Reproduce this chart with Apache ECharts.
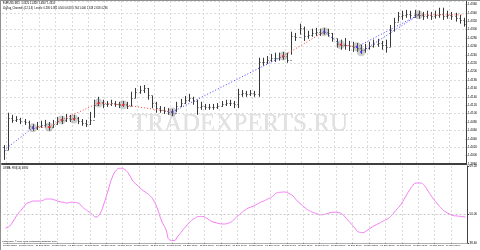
<!DOCTYPE html>
<html><head><meta charset="utf-8">
<script src="https://cdn.jsdelivr.net/npm/echarts@6/dist/echarts.min.js"></script>
<style>html,body{margin:0;padding:0;background:#fff}#c{width:480px;height:250px}</style>
</head><body><div id="c"></div>
<script>
// ---- data ----
const firstOpen = 1.4020;
const closes = [1.4013,1.4090,1.4085,1.4087,1.4083,1.4080,1.4071,1.4066,1.4071,1.4073,
1.4075,1.4068,1.4075,1.4083,1.4085,1.4090,1.4087,1.4090,1.4083,1.4078,
1.4075,1.4085,1.4121,1.4128,1.4123,1.4123,1.4125,1.4123,1.4121,1.4123,
1.4118,1.4137,1.4152,1.4156,1.4161,1.4145,1.4125,1.4113,1.4109,1.4106,
1.4104,1.4102,1.4118,1.4125,1.4133,1.4137,1.4130,1.4116,1.4118,1.4116,
1.4116,1.4116,1.4118,1.4123,1.4125,1.4125,1.4123,1.4147,1.4149,1.4147,
1.4149,1.4147,1.4223,1.4223,1.4228,1.4233,1.4233,1.4235,1.4237,1.4228,
1.4285,1.4283,1.4304,1.4285,1.4288,1.4292,1.4295,1.4292,1.4295,1.4292,
1.4280,1.4266,1.4264,1.4264,1.4261,1.4259,1.4257,1.4252,1.4257,1.4261,
1.4266,1.4268,1.4264,1.4259,1.4299,1.4319,1.4333,1.4335,1.4338,1.4335,
1.4338,1.4335,1.4333,1.4335,1.4333,1.4335,1.4338,1.4333,1.4335,1.4333,
1.4328,1.4323,1.4314];
const highs = [1.4025,1.4102,1.4097,1.4094,1.4090,1.4087,1.4083,1.4075,1.4080,1.4083,
1.4085,1.4080,1.4085,1.4092,1.4094,1.4099,1.4097,1.4097,1.4092,1.4087,
1.4085,1.4104,1.4133,1.4140,1.4133,1.4130,1.4133,1.4130,1.4128,1.4130,
1.4128,1.4152,1.4161,1.4166,1.4168,1.4161,1.4142,1.4128,1.4118,1.4116,
1.4113,1.4111,1.4128,1.4135,1.4142,1.4147,1.4140,1.4133,1.4128,1.4123,
1.4123,1.4123,1.4125,1.4130,1.4133,1.4133,1.4130,1.4159,1.4156,1.4154,
1.4156,1.4154,1.4233,1.4233,1.4237,1.4242,1.4245,1.4245,1.4247,1.4245,
1.4295,1.4292,1.4314,1.4307,1.4297,1.4302,1.4304,1.4302,1.4304,1.4302,
1.4292,1.4278,1.4276,1.4280,1.4273,1.4271,1.4268,1.4264,1.4266,1.4271,
1.4276,1.4278,1.4273,1.4276,1.4311,1.4328,1.4342,1.4345,1.4347,1.4345,
1.4347,1.4345,1.4342,1.4345,1.4342,1.4345,1.4352,1.4352,1.4345,1.4342,
1.4340,1.4335,1.4328];
const lows = [1.3990,1.4013,1.4078,1.4080,1.4075,1.4073,1.4063,1.4059,1.4061,1.4066,
1.4068,1.4059,1.4066,1.4073,1.4075,1.4080,1.4080,1.4083,1.4075,1.4071,
1.4068,1.4073,1.4090,1.4118,1.4113,1.4116,1.4118,1.4116,1.4113,1.4116,
1.4111,1.4118,1.4137,1.4147,1.4149,1.4133,1.4113,1.4102,1.4102,1.4099,
1.4097,1.4094,1.4104,1.4116,1.4123,1.4128,1.4121,1.4097,1.4109,1.4109,
1.4109,1.4109,1.4111,1.4116,1.4118,1.4118,1.4113,1.4113,1.4140,1.4140,
1.4142,1.4140,1.4140,1.4214,1.4218,1.4223,1.4223,1.4226,1.4228,1.4221,
1.4240,1.4273,1.4288,1.4273,1.4278,1.4283,1.4285,1.4285,1.4288,1.4283,
1.4271,1.4257,1.4252,1.4252,1.4249,1.4247,1.4247,1.4242,1.4245,1.4252,
1.4257,1.4259,1.4252,1.4245,1.4259,1.4295,1.4319,1.4323,1.4328,1.4326,
1.4328,1.4326,1.4323,1.4326,1.4323,1.4326,1.4328,1.4323,1.4326,1.4323,
1.4319,1.4314,1.4307];
const oscValues = [44.4,45.2,47.6,50.0,52.0,54.0,54.8,55.2,55.2,55.4,
56.0,56.0,55.6,55.0,54.7,54.4,54.7,54.6,54.0,52.4,
51.2,50.0,48.8,50.2,54.4,59.6,64.8,67.6,68.3,67.8,
66.0,63.2,61.6,60.0,58.8,57.6,55.6,52.0,47.2,44.0,
39.6,39.4,41.2,43.2,45.2,47.0,48.2,49.0,49.0,48.3,
47.2,46.6,46.2,46.0,46.2,46.9,48.4,49.8,51.2,52.3,
52.9,53.7,54.6,55.3,56.1,57.0,58.4,58.7,58.8,58.2,
57.2,55.3,53.8,52.4,51.3,50.6,50.0,49.7,50.0,50.5,
50.7,50.6,49.9,48.2,46.4,44.5,42.8,42.6,43.4,44.5,
45.5,46.3,47.2,48.0,49.4,51.4,53.2,55.7,58.6,61.0,
62.4,62.4,61.4,58.9,56.5,54.4,52.5,51.0,50.1,49.4,
49.2,49.0,48.8];
// zigzag pivots: bar index, price, dot colour
const pivIdx   = [7, 11, 14, 17, 23, 29, 41, 68, 78, 82, 86, 87, 101];
const pivPrice = [1.4066,1.4068,1.4085,1.4087,1.4125,1.4121,1.4104,1.4237,1.4295,1.4264,1.4259,1.4247,1.4335];
const pivColor = ['#3030ff','#ff2020','#ff2020','#ff2020','#ff2020','#ff2020','#3030ff','#ff2020','#3030ff','#ff2020','#3030ff','#3030ff','#606060'];
// zigzag / channel segments
const redSegs = [
  [[7,1.4066],[11,1.4068],[14,1.4085],[23,1.4125],[29,1.4121],[41,1.4104]],
  [[68,1.4237],[78,1.4295]],
  [[82,1.4264],[86,1.4259]],
  [[101,1.4335],[112,1.4335]]
];
const blueSegs = [
  [[0,1.4013],[7,1.4066]],
  [[41,1.4104],[68,1.4237]],
  [[78,1.4295],[82,1.4264]],
  [[86,1.4259],[101,1.4335]],
  [[87,1.4247],[101,1.4335]]
];
const timeLabels = ['18 Sep 2008','18 Sep 01:00','18 Sep 02:00','18 Sep 03:00','18 Sep 04:00','18 Sep 05:00',
'18 Sep 06:00','18 Sep 07:00','18 Sep 08:00','18 Sep 09:00','18 Sep 10:00','18 Sep 11:00','18 Sep 12:00',
'18 Sep 13:00','18 Sep 14:00','18 Sep 15:00','18 Sep 16:00','18 Sep 17:00','18 Sep 18:00','18 Sep 19:00',
'18 Sep 20:00','18 Sep 21:00','18 Sep 22:00','18 Sep 23:00','19 Sep 00:00','19 Sep 01:00','19 Sep 02:00',
'19 Sep 03:00','19 Sep 04:00'];
const priceMin = 1.398, priceMax = 1.4368, priceStep = 0.002;
const oscMin = 38.4, oscMax = 69.2, oscLevel = 50;
const oscLabels = [38.4, 50, 69.2];
const headerText = 'EURUSD,M15  1.4320 1.4328 1.4307 1.4314';
const indText = 'ZigZag_Channels (12,5,3)  Levels: 0.236 0.382 0.500 0.618 0.764 1.000 1.618 2.618 4.236';
const oscTitle = 'LWMA_RSI(14) 48.80';
const footer = 'MetaTrader, \u00a9 2001-2008 MetaQuotes Software Corp.';

// ---- build ----
const cats = closes.map((_, i) => i);
const ohlc = closes.map((c, i) => [i, i === 0 ? firstOpen : closes[i-1], c, lows[i], highs[i]]);
const tickShow = (idx) => idx % 4 === 1;

const gridLine = {show:true, lineStyle:{color:'#dcdcdc', type:[2,2], width:1}};
const series = [];
series.push({
  type:'custom', xAxisIndex:0, yAxisIndex:0, data:ohlc, encode:{x:0, y:[1,2,3,4]}, z:3,
  renderItem(params, api){
    const i = api.value(0);
    const ph = api.coord([i, api.value(4)]), pl = api.coord([i, api.value(3)]);
    const po = api.coord([i, api.value(1)]), pc = api.coord([i, api.value(2)]);
    const x = Math.round(ph[0]) + 0.5;
    const st = {stroke:'#383838', lineWidth:1};
    return {type:'group', children:[
      {type:'line', shape:{x1:x, y1:ph[1], x2:x, y2:pl[1]}, style:st},
      {type:'line', shape:{x1:x-1, y1:Math.round(po[1])+0.5, x2:x, y2:Math.round(po[1])+0.5}, style:st},
      {type:'line', shape:{x1:x, y1:Math.round(pc[1])+0.5, x2:x+1, y2:Math.round(pc[1])+0.5}, style:st}
    ]};
  }
});
redSegs.forEach(s => series.push({type:'line', xAxisIndex:0, yAxisIndex:0, data:s, symbol:'none', z:4, silent:true,
  lineStyle:{color:'#ff4040', width:1, type:[1,2]}}));
blueSegs.forEach(s => series.push({type:'line', xAxisIndex:0, yAxisIndex:0, data:s, symbol:'none', z:4, silent:true,
  lineStyle:{color:'#4040ff', width:1, type:[1,2]}}));
series.push({type:'scatter', xAxisIndex:0, yAxisIndex:0, z:5, symbolSize:9,
  data:pivIdx.map((x,k)=>[x,pivPrice[k]]), itemStyle:{color:'rgba(110,110,110,0.4)'}});
series.push({type:'scatter', xAxisIndex:0, yAxisIndex:0, z:6, symbol:'rect', symbolSize:2,
  data:pivIdx.map((x,k)=>({value:[x,pivPrice[k]], itemStyle:{color:pivColor[k]}}))});
series.push({type:'line', xAxisIndex:1, yAxisIndex:2, data:oscValues, symbol:'none', smooth:true, z:4,
  lineStyle:{color:'#f47cf4', width:1},
  markLine:{silent:true, symbol:'none', label:{show:false}, lineStyle:{color:'#c8c8c8', type:[2,2], width:1},
    data:[{yAxis:oscLevel}]}});

const chart = echarts.init(document.getElementById('c'), null, {renderer:'canvas'});
chart.setOption({
  animation:false, backgroundColor:'#fff',
  grid:[{left:2, right:9, top:1, height:163}, {left:2, right:9, top:166, height:77}],
  xAxis:[
    {type:'category', gridIndex:0, data:cats, boundaryGap:true,
     axisLine:{show:true, lineStyle:{color:'#404040', width:2}}, axisTick:{show:false}, axisLabel:{show:false},
     splitLine:{...gridLine, interval:(i)=>tickShow(i)}},
    {type:'category', gridIndex:1, data:cats, boundaryGap:true,
     axisLine:{show:true, lineStyle:{color:'#b0b0b0', width:1}},
     axisTick:{show:true, length:1, interval:(i)=>tickShow(i), lineStyle:{color:'#808080'}},
     axisLabel:{show:true, interval:(i)=>tickShow(i), fontSize:2.4, color:'#000', margin:1.5, align:'center',
       fontFamily:'Liberation Sans', formatter:(v)=>timeLabels[(Number(v)-1)/4] || ''},
     splitLine:{...gridLine, interval:(i)=>tickShow(i)}}
  ],
  yAxis:[
    {type:'value', gridIndex:0, position:'right', min:priceMin, max:priceMax, interval:priceStep,
     axisLine:{show:true, lineStyle:{color:'#404040'}}, axisTick:{show:true, length:1.5, lineStyle:{color:'#404040'}},
     axisLabel:{fontSize:3, color:'#000', margin:2, fontFamily:'Liberation Sans', showMaxLabel:false,
       formatter:(v)=>v.toFixed(4)},
     splitLine:{show:false}},
    {type:'value', gridIndex:0, position:'right', min:priceMin, max:priceMax, interval:priceStep*2,
     axisLine:{show:false}, axisTick:{show:false}, axisLabel:{show:false}, splitLine:gridLine},
    {type:'value', gridIndex:1, position:'right', min:oscMin, max:oscMax,
     axisLine:{show:true, lineStyle:{color:'#404040'}},
     axisTick:{show:true, length:1.5, customValues:oscLabels, lineStyle:{color:'#404040'}},
     axisLabel:{fontSize:3, color:'#000', margin:2, fontFamily:'Liberation Sans', customValues:oscLabels,
       formatter:(v)=>v.toFixed(2)},
     splitLine:{show:false}}
  ],
  graphic:[
    {type:'rect', left:0, top:0, shape:{width:1, height:250}, style:{fill:'#909090'}, z:10},
    {type:'rect', left:0, top:0, shape:{width:480, height:1}, style:{fill:'#909090'}, z:10},
    {type:'text', left:3, top:2, z:10, style:{text:headerText, fontSize:2.6, fontFamily:'Liberation Sans', fill:'#000'}},
    {type:'text', left:3, top:6.5, z:10, style:{text:indText, fontSize:2.6, fontFamily:'Liberation Sans', fill:'#000'}},
    {type:'text', left:3, top:167, z:10, style:{text:oscTitle, fontSize:2.6, fontFamily:'Liberation Sans', fill:'#000'}},
    {type:'text', left:2, top:240, z:10, style:{text:footer, fontSize:2.3, fontFamily:'Liberation Sans', fill:'#000'}},
    {type:'text', x:240, y:124, z:2, style:{text:'TRADEXPERTS.RU', fontSize:25, fontFamily:'Liberation Serif',
      align:'center', verticalAlign:'middle', fill:'#d6d6d6', shadowColor:'rgba(0,0,0,1)', shadowBlur:6}},
    {type:'text', x:240, y:124, z:2, style:{text:'TRADEXPERTS.RU', fontSize:25, fontFamily:'Liberation Serif',
      align:'center', verticalAlign:'middle', fill:'#e2e2e2'}}
  ],
  series
});
</script></body></html>
